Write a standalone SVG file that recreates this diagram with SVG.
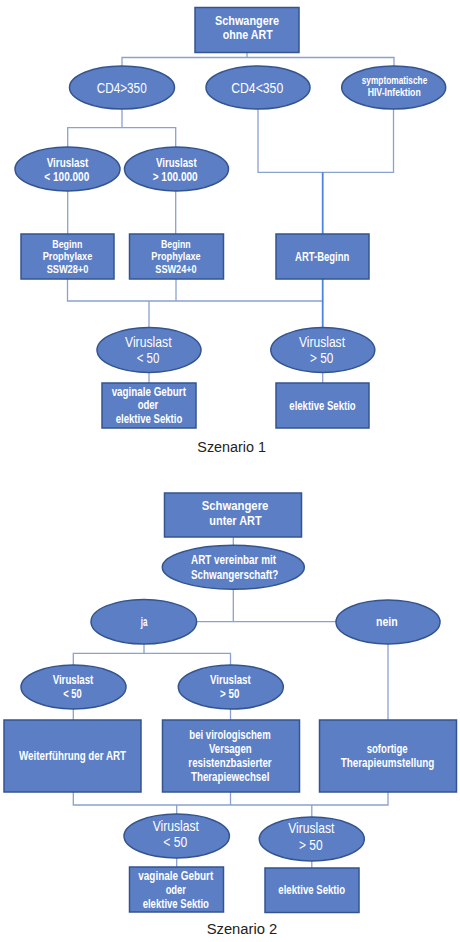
<svg xmlns="http://www.w3.org/2000/svg" width="460" height="942" viewBox="0 0 460 942">
<style>
.n{fill:#5b7ec5;stroke:#34548f;stroke-width:1.5}
.t{font-family:"Liberation Sans",Arial,sans-serif;fill:#fff;text-anchor:middle;font-weight:bold;font-size:12.5px}
.tl{font-weight:normal;font-size:15px}
.ts{font-size:10px}
.tc{font-size:11.3px}
.cap{font-family:"Liberation Sans",Arial,sans-serif;fill:#222;font-size:15.5px;text-anchor:middle}
.c{fill:none;stroke:#8aa2cf;stroke-width:1.3}
.cb{fill:none;stroke:#4a84de;stroke-width:1.8}
</style>
<rect width="460" height="942" fill="#fff"/>
<g id="connectors">
<path class="c" d="M247,53 V57.5 M122,66 V57.5 H394 V66"/>
<path class="c" d="M122,109 V127.7 M67.7,147.3 V127.7 H175.7 V147.3"/>
<path class="c" d="M258,109 V172.3 H393.5 V109"/>
<path class="cb" d="M322.7,172.3 V234"/>
<path class="c" d="M67.7,191 V234 M175.7,191 V234"/>
<path class="c" d="M67.5,279 V301 H322.7 M176,279 V301 M149,301 V328"/>
<path class="cb" d="M322.7,279 V328"/>
<path class="c" d="M149,372.5 V383 M322.7,372.5 V383"/>
<path class="c" d="M233.3,537 V545.5 M233.3,589.3 V621.7 M197,621.7 H336"/>
<path class="c" d="M144,644 V653.3 M73.3,665 V653.3 H230.5 V665"/>
<path class="c" d="M73.3,709 V720 M230.5,709 V720 M388,644 V720"/>
<path class="c" d="M73.3,792 V805 H388 V792 M230.5,792 V805 M176.7,805 V814 M311.8,805 V817"/>
<path class="c" d="M176.7,858 V867 M311.8,861 V868"/>
</g>
<g id="s1-start"><rect class="n" x="195" y="7.5" width="104" height="45"/>
<text class="t" x="247" y="25" textLength="64" lengthAdjust="spacingAndGlyphs">Schwangere</text>
<text class="t" x="247.7" y="39" textLength="50" lengthAdjust="spacingAndGlyphs">ohne ART</text></g>
<g id="s1-cd4-gt"><ellipse class="n" cx="122" cy="87.5" rx="52.5" ry="21.5"/>
<text class="t tl" x="121.7" y="93" textLength="50" lengthAdjust="spacingAndGlyphs">CD4&gt;350</text></g>
<g id="s1-cd4-lt"><ellipse class="n" cx="258" cy="87.5" rx="52" ry="21.5"/>
<text class="t tl" x="257.2" y="93" textLength="52" lengthAdjust="spacingAndGlyphs">CD4&lt;350</text></g>
<g id="s1-symp"><ellipse class="n" cx="393.7" cy="87.5" rx="52" ry="21.5"/>
<text class="t ts" x="394.5" y="84" textLength="65.7" lengthAdjust="spacingAndGlyphs">symptomatische</text>
<text class="t ts" x="394.2" y="95.5" textLength="53" lengthAdjust="spacingAndGlyphs">HIV-Infektion</text></g>
<g id="s1-vl-lt100k"><ellipse class="n" cx="67.5" cy="169" rx="52.5" ry="22"/>
<text class="t" x="67.5" y="166.7" textLength="41.7" lengthAdjust="spacingAndGlyphs">Viruslast</text>
<text class="t" x="66.8" y="180.5" textLength="45" lengthAdjust="spacingAndGlyphs">&lt; 100.000</text></g>
<g id="s1-vl-gt100k"><ellipse class="n" cx="176.5" cy="169" rx="52" ry="22"/>
<text class="t" x="176.3" y="166.7" textLength="40.7" lengthAdjust="spacingAndGlyphs">Viruslast</text>
<text class="t" x="175.2" y="180.5" textLength="45" lengthAdjust="spacingAndGlyphs">&gt; 100.000</text></g>
<g id="s1-proph28"><rect class="n" x="21" y="234" width="93" height="45"/>
<text class="t tc" x="67.3" y="247.5" textLength="30" lengthAdjust="spacingAndGlyphs">Beginn</text>
<text class="t tc" x="67.5" y="259.8" textLength="49.7" lengthAdjust="spacingAndGlyphs">Prophylaxe</text>
<text class="t tc" x="67.5" y="272.8" textLength="41.7" lengthAdjust="spacingAndGlyphs">SSW28+0</text></g>
<g id="s1-proph24"><rect class="n" x="129.5" y="234" width="94" height="45"/>
<text class="t tc" x="175.8" y="247.5" textLength="29.7" lengthAdjust="spacingAndGlyphs">Beginn</text>
<text class="t tc" x="176" y="259.8" textLength="49.4" lengthAdjust="spacingAndGlyphs">Prophylaxe</text>
<text class="t tc" x="176" y="272.8" textLength="41.4" lengthAdjust="spacingAndGlyphs">SSW24+0</text></g>
<g id="s1-art"><rect class="n" x="276" y="234" width="93" height="45"/>
<text class="t" x="322.2" y="260.5" textLength="54.3" lengthAdjust="spacingAndGlyphs">ART-Beginn</text></g>
<g id="s1-vl-lt50"><ellipse class="n" cx="149" cy="350" rx="52" ry="22.5"/>
<text class="t tl" x="148.3" y="346.5" textLength="46.7" lengthAdjust="spacingAndGlyphs">Viruslast</text>
<text class="t tl" x="148" y="363" textLength="22.7" lengthAdjust="spacingAndGlyphs">&lt; 50</text></g>
<g id="s1-vl-gt50"><ellipse class="n" cx="322.8" cy="350" rx="52" ry="22.5"/>
<text class="t tl" x="322" y="346.5" textLength="46" lengthAdjust="spacingAndGlyphs">Viruslast</text>
<text class="t tl" x="321.7" y="363" textLength="23.3" lengthAdjust="spacingAndGlyphs">&gt; 50</text></g>
<g id="s1-vaginal"><rect class="n" x="102" y="383" width="94" height="45"/>
<text class="t" x="148.8" y="396" textLength="74.3" lengthAdjust="spacingAndGlyphs">vaginale Geburt</text>
<text class="t" x="148" y="409" textLength="20.7" lengthAdjust="spacingAndGlyphs">oder</text>
<text class="t" x="149" y="422.5" textLength="66.7" lengthAdjust="spacingAndGlyphs">elektive Sektio</text></g>
<g id="s1-sektio"><rect class="n" x="276" y="383" width="93" height="45"/>
<text class="t" x="322.5" y="409.5" textLength="66.3" lengthAdjust="spacingAndGlyphs">elektive Sektio</text></g>
<text class="cap" x="231.7" y="451.7" textLength="68.7" lengthAdjust="spacingAndGlyphs">Szenario 1</text>

<g id="s2-start"><rect class="n" x="164.5" y="493" width="137" height="44"/>
<text class="t" x="235" y="509.5" textLength="66.7" lengthAdjust="spacingAndGlyphs">Schwangere</text>
<text class="t" x="235.5" y="524.5" textLength="52.3" lengthAdjust="spacingAndGlyphs">unter ART</text></g>
<g id="s2-vereinbar"><ellipse class="n" cx="233.3" cy="567.3" rx="71" ry="22"/>
<text class="t" x="233.5" y="564" textLength="85" lengthAdjust="spacingAndGlyphs">ART vereinbar mit</text>
<text class="t" x="234.7" y="579.3" textLength="87.3" lengthAdjust="spacingAndGlyphs">Schwangerschaft?</text></g>
<g id="s2-ja"><ellipse class="n" cx="143.8" cy="621.7" rx="52.8" ry="22.3"/>
<text class="t" x="144" y="626" textLength="6.6" lengthAdjust="spacingAndGlyphs">ja</text></g>
<g id="s2-nein"><ellipse class="n" cx="388" cy="622" rx="52" ry="22"/>
<text class="t" x="386.8" y="626" textLength="21.7" lengthAdjust="spacingAndGlyphs">nein</text></g>
<g id="s2-vl-lt50a"><ellipse class="n" cx="73.5" cy="687" rx="52.5" ry="22"/>
<text class="t" x="73" y="684.3" textLength="40.7" lengthAdjust="spacingAndGlyphs">Viruslast</text>
<text class="t" x="72.5" y="697.5" textLength="18.4" lengthAdjust="spacingAndGlyphs">&lt; 50</text></g>
<g id="s2-vl-gt50a"><ellipse class="n" cx="230.8" cy="687" rx="52.5" ry="22"/>
<text class="t" x="230.3" y="684.3" textLength="40.7" lengthAdjust="spacingAndGlyphs">Viruslast</text>
<text class="t" x="229.7" y="697.5" textLength="19.3" lengthAdjust="spacingAndGlyphs">&gt; 50</text></g>
<g id="s2-weiter"><rect class="n" x="4" y="720" width="137" height="72"/>
<text class="t" x="72.5" y="759.5" textLength="107" lengthAdjust="spacingAndGlyphs">Weiterführung der ART</text></g>
<g id="s2-versagen"><rect class="n" x="162.5" y="720" width="137" height="72"/>
<text class="t" x="230" y="738.5" textLength="81.3" lengthAdjust="spacingAndGlyphs">bei virologischem</text>
<text class="t" x="230.3" y="752.7" textLength="42.7" lengthAdjust="spacingAndGlyphs">Versagen</text>
<text class="t" x="230" y="766.7" textLength="83.3" lengthAdjust="spacingAndGlyphs">resistenzbasierter</text>
<text class="t" x="230.2" y="780.7" textLength="78.3" lengthAdjust="spacingAndGlyphs">Therapiewechsel</text></g>
<g id="s2-umstellung"><rect class="n" x="319.5" y="720" width="137" height="72"/>
<text class="t" x="387.2" y="752.7" textLength="41" lengthAdjust="spacingAndGlyphs">sofortige</text>
<text class="t" x="387.5" y="766.7" textLength="93.7" lengthAdjust="spacingAndGlyphs">Therapieumstellung</text></g>
<g id="s2-vl-lt50b"><ellipse class="n" cx="176.7" cy="836" rx="52.7" ry="22"/>
<text class="t tl" x="175.8" y="830.5" textLength="46.3" lengthAdjust="spacingAndGlyphs">Viruslast</text>
<text class="t tl" x="175.3" y="847" textLength="24" lengthAdjust="spacingAndGlyphs">&lt; 50</text></g>
<g id="s2-vl-gt50b"><ellipse class="n" cx="311.8" cy="839" rx="52.5" ry="22"/>
<text class="t tl" x="311.3" y="833" textLength="46" lengthAdjust="spacingAndGlyphs">Viruslast</text>
<text class="t tl" x="310.8" y="849.5" textLength="23.7" lengthAdjust="spacingAndGlyphs">&gt; 50</text></g>
<g id="s2-vaginal"><rect class="n" x="129.5" y="867" width="94" height="45"/>
<text class="t" x="175.8" y="880.3" textLength="75" lengthAdjust="spacingAndGlyphs">vaginale Geburt</text>
<text class="t" x="175.8" y="894" textLength="20.3" lengthAdjust="spacingAndGlyphs">oder</text>
<text class="t" x="175.8" y="907.5" textLength="66.3" lengthAdjust="spacingAndGlyphs">elektive Sektio</text></g>
<g id="s2-sektio"><rect class="n" x="265" y="868" width="94" height="44.5"/>
<text class="t" x="311.7" y="894.3" textLength="66.7" lengthAdjust="spacingAndGlyphs">elektive Sektio</text></g>
<text class="cap" x="242" y="934.3" textLength="70.7" lengthAdjust="spacingAndGlyphs">Szenario 2</text>
</svg>
